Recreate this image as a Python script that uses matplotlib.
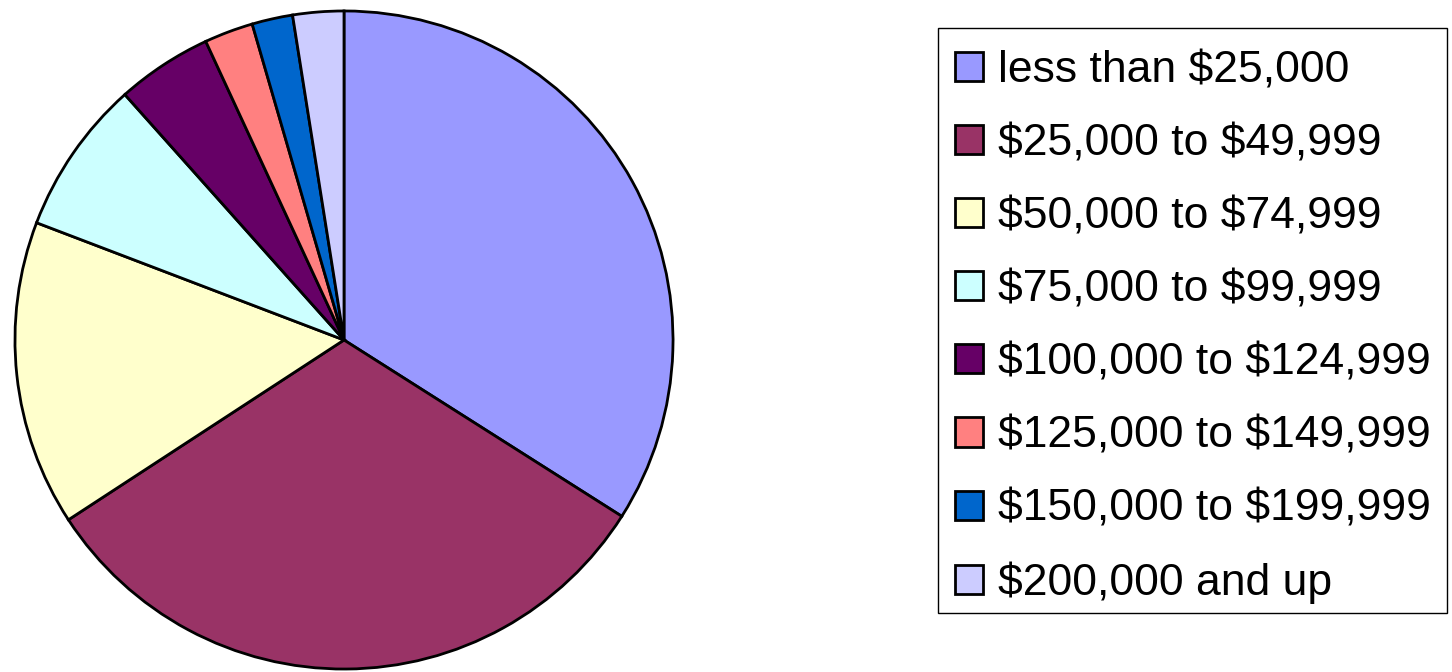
import matplotlib
matplotlib.use('Agg')
import matplotlib.pyplot as plt
from matplotlib.patches import Rectangle

labels = ['less than $25,000', '$25,000 to $49,999', '$50,000 to $74,999',
          '$75,000 to $99,999', '$100,000 to $124,999', '$125,000 to $149,999',
          '$150,000 to $199,999', '$200,000 and up']
shares = [34.0, 31.8, 15.0, 7.6, 4.7, 2.4, 2.0, 2.5]
colors = ['#9999FF', '#993366', '#FFFFCC', '#CCFFFF',
          '#660066', '#FF8080', '#0066CC', '#CCCCFF']

plt.rcParams['font.family'] = ['Liberation Sans', 'DejaVu Sans']
plt.rcParams['text.parse_math'] = False

W, H = 1452, 672
fig = plt.figure(figsize=(W / 100, H / 100), dpi=100)

# pie centre (344, 340) px, radius 331 px
cx, cy, r = 344, 340, 331
ax = fig.add_axes([(cx - r) / W, (H - cy - r) / H, 2 * r / W, 2 * r / H])
wedges, _ = ax.pie(shares, colors=colors, startangle=90, counterclock=False,
                   wedgeprops=dict(edgecolor='black', linewidth=2))
ax.set_xlim(-1.006, 1.006)
ax.set_ylim(-1.006, 1.006)
ax.set_aspect('equal')
ax.axis('off')

# legend box drawn by hand so the padding matches the original
fig.patches.append(Rectangle((938 / W, 1 - 613 / H), (1447 - 938) / W, (613 - 28) / H,
                             transform=fig.transFigure, facecolor='white',
                             edgecolor='black', linewidth=1.0, zorder=0))

leg = fig.legend(wedges, labels, loc='upper left',
                 bbox_to_anchor=(955 / W, 1 - 50 / H), borderaxespad=0,
                 fontsize=32, frameon=False,
                 handlelength=0.63, handleheight=0.63, handletextpad=0.34,
                 labelspacing=0.723, borderpad=0)

fig.savefig('out.png', dpi=100)
